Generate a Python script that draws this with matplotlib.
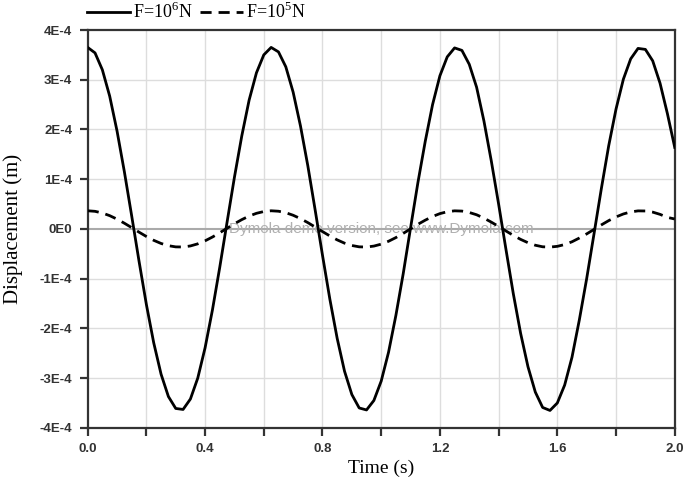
import matplotlib
matplotlib.use('Agg')
import matplotlib.pyplot as plt
import numpy as np
from matplotlib.ticker import MultipleLocator, FixedLocator

plt.rcParams['mathtext.fontset'] = 'custom'
plt.rcParams['mathtext.rm'] = 'Liberation Serif'

# time samples (s), read every 0.025 s
time = [i * 0.025 for i in range(81)]

# displacement for F=10^6 N, in 1E-4 m
disp_big = [3.65, 3.54, 3.20, 2.67, 1.97, 1.15, 0.26, -0.65, -1.52, -2.29,
            -2.92, -3.37, -3.61, -3.63, -3.42, -3.00, -2.39, -1.63, -0.77, 0.14,
            1.04, 1.87, 2.59, 3.14, 3.50, 3.65, 3.56, 3.26, 2.75, 2.07,
            1.27, 0.38, -0.53, -1.41, -2.20, -2.86, -3.33, -3.60, -3.64, -3.45,
            -3.06, -2.48, -1.74, -0.90, 0.02, 0.93, 1.76, 2.50, 3.08, 3.46,
            3.64, 3.59, 3.31, 2.85, 2.17, 1.37, 0.50, -0.41, -1.30, -2.10,
            -2.77, -3.28, -3.59, -3.65, -3.50, -3.14, -2.58, -1.83, -1.00, -0.10,
            0.81, 1.67, 2.41, 3.01, 3.42, 3.63, 3.61, 3.38, 2.93, 2.32, 1.64]

# displacement for F=10^5 N, in 1E-4 m
disp_small = [0.365, 0.354, 0.320, 0.267, 0.197, 0.115, 0.026, -0.065, -0.152, -0.229,
              -0.292, -0.337, -0.361, -0.363, -0.342, -0.300, -0.239, -0.163, -0.077, 0.014,
              0.104, 0.187, 0.259, 0.314, 0.350, 0.365, 0.356, 0.326, 0.275, 0.207,
              0.127, 0.038, -0.053, -0.141, -0.220, -0.286, -0.333, -0.360, -0.364, -0.345,
              -0.306, -0.248, -0.174, -0.090, 0.002, 0.093, 0.176, 0.250, 0.308, 0.346,
              0.364, 0.359, 0.331, 0.285, 0.217, 0.137, 0.050, -0.041, -0.130, -0.210,
              -0.277, -0.328, -0.359, -0.365, -0.350, -0.314, -0.258, -0.183, -0.100, -0.010,
              0.081, 0.167, 0.241, 0.301, 0.342, 0.363, 0.361, 0.338, 0.293, 0.232, 0.20]

x_ticks = [0.0, 0.4, 0.8, 1.2, 1.6, 2.0]
y_ticks = [4, 3, 2, 1, 0, -1, -2, -3, -4]
y_labels = ['4E-4', '3E-4', '2E-4', '1E-4', '0E0', '-1E-4', '-2E-4', '-3E-4', '-4E-4']

fig = plt.figure(figsize=(6.85, 4.84), dpi=100)
ax = fig.add_axes([0.128, 0.116, 0.857, 0.822])

scale = 1e-4
t = np.array(time)
ax.plot(t, np.array(disp_big) * scale, color='black', lw=2.0, label='F=10$^{6}$N', zorder=3)
ax.plot(t, np.array(disp_small) * scale, color='black', lw=2.0, ls=(0, (4, 2.5)),
        label='F=10$^{5}$N', zorder=3)

ax.set_xlim(0, 2.0)
ax.set_ylim(-4e-4, 4e-4)

ax.xaxis.set_major_locator(FixedLocator(x_ticks))
ax.xaxis.set_minor_locator(MultipleLocator(0.2))
ax.set_xticklabels([f'{v:.1f}' for v in x_ticks])
ax.yaxis.set_major_locator(FixedLocator([v * scale for v in y_ticks]))
ax.set_yticklabels(y_labels)

# grid
for xv in np.arange(0.2, 2.0, 0.2):
    ax.axvline(xv, color='#dddddd', lw=1.0, zorder=1)
for yv in y_ticks:
    if yv != 0 and abs(yv) != 4:
        ax.axhline(yv * scale, color='#dddddd', lw=1.0, zorder=1)
ax.axhline(0, color='#aaaaaa', lw=1.5, zorder=1)

for s in ax.spines.values():
    s.set_color('#333333')
    s.set_linewidth(1.6)

ax.tick_params(axis='both', which='major', direction='out', length=6, width=1.6,
               color='#333333', labelsize=9.5, labelcolor='#333333', pad=5)
ax.tick_params(axis='x', which='minor', direction='out', length=6, width=1.6, color='#333333')
for lab in ax.get_xticklabels() + ax.get_yticklabels():
    lab.set_fontfamily('Liberation Sans')
    lab.set_fontweight('bold')

ax.set_xlabel('Time (s)', fontfamily='Liberation Serif', fontsize=14, labelpad=3)
ax.set_ylabel('Displacement (m)', fontfamily='Liberation Serif', fontsize=15, labelpad=12)

ax.text(1.0, 0.0, 'Dymola demo version, see www.Dymola.com',
        color='#b0b0b0', fontsize=11, ha='center', va='center', zorder=2,
        fontfamily='Liberation Sans')

fig.legend(loc='upper left', bbox_to_anchor=(0.103, 1.03), ncol=2, frameon=False,
           prop={'family': 'Liberation Serif', 'size': 13}, handlelength=2.4,
           handletextpad=0.15, columnspacing=0.4)

fig.savefig('out.png', dpi=100)
